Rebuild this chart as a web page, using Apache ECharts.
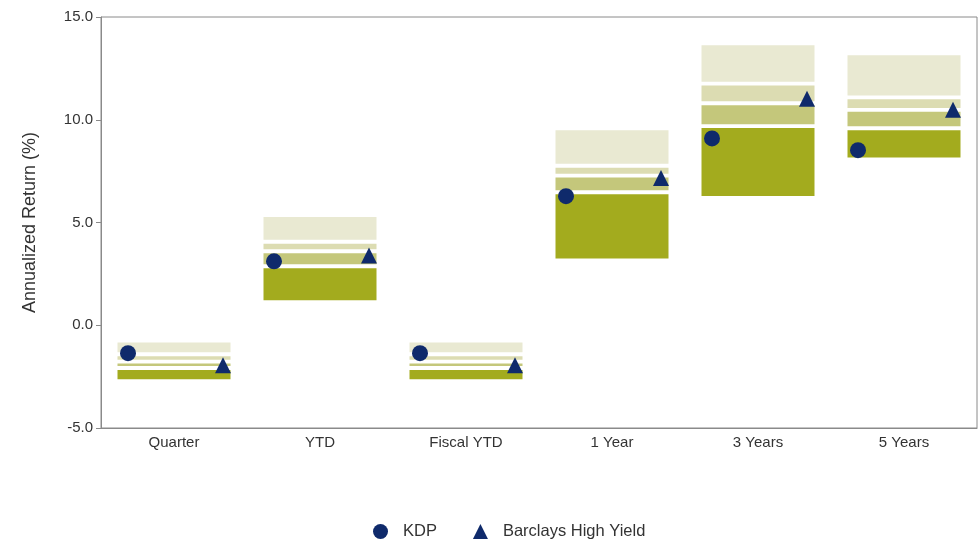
<!DOCTYPE html>
<html>
<head>
<meta charset="utf-8">
<script src="https://cdn.jsdelivr.net/npm/echarts@6/dist/echarts.min.js"></script>
<style>html,body{margin:0;padding:0;background:#fff}#chart{width:978px;height:543px}</style>
</head>
<body>
<div id="chart"></div>
<script>
var categories = ['Quarter', 'YTD', 'Fiscal YTD', '1 Year', '3 Years', '5 Years'];
var bandBottom = [-2.63, 1.22, -2.63, 3.25, 6.29, 8.16];
var band25 = [-2.08, 2.87, -2.08, 6.47, 9.69, 9.59];
var bandMedian = [-1.77, 3.60, -1.77, 7.28, 10.80, 10.48];
var band75 = [-1.41, 4.06, -1.41, 7.76, 11.76, 11.09];
var bandTop = [-0.84, 5.27, -0.84, 9.49, 13.63, 13.14];
var kdp = [-1.36, 3.11, -1.36, 6.28, 9.09, 8.52];
var barclays = [-1.95, 3.40, -1.95, 7.17, 11.02, 10.49];
var yTicks = [-5, 0, 5, 10, 15];

var GAP = 0.19; // white separator thickness in axis units (~4px)
function seg(hi, lo, cutHi, cutLo) {
  return hi.map(function (v, i) { return +(v - lo[i] - cutHi - cutLo).toFixed(3); });
}
function fill(v) { return categories.map(function () { return v; }); }

var font = 'Liberation Sans, Arial, sans-serif';
var bandColors = ['#a3ab1e', '#c4c77b', '#dcdcb2', '#e9e9d2'];
var pieces = [
  { name: 'base', data: bandBottom, color: 'transparent' },
  { name: '5th-25th', data: seg(band25, bandBottom, GAP / 2, 0), color: bandColors[0] },
  { name: 'g1', data: fill(GAP), color: 'transparent' },
  { name: '25th-Median', data: seg(bandMedian, band25, GAP / 2, GAP / 2), color: bandColors[1] },
  { name: 'g2', data: fill(GAP), color: 'transparent' },
  { name: 'Median-75th', data: seg(band75, bandMedian, GAP / 2, GAP / 2), color: bandColors[2] },
  { name: 'g3', data: fill(GAP), color: 'transparent' },
  { name: '75th-95th', data: seg(bandTop, band75, 0, GAP / 2), color: bandColors[3] }
];
var series = pieces.map(function (p) {
  return {
    name: p.name, type: 'bar', stack: 'b', stackStrategy: 'all', barWidth: 113,
    itemStyle: { color: p.color }, silent: true, data: p.data
  };
});
series.push({
  name: 'KDP', type: 'scatter', symbol: 'circle', symbolSize: 16, symbolOffset: [-46, 0],
  itemStyle: { color: '#0f2a6b', opacity: 1 }, z: 5, data: kdp
});
series.push({
  name: 'Barclays High Yield', type: 'scatter', symbol: 'triangle', symbolSize: 16, symbolOffset: [49, 0],
  itemStyle: { color: '#0f2a6b', opacity: 1 }, z: 5, data: barclays
});

var chart = echarts.init(document.getElementById('chart'));
chart.setOption({
  animation: false,
  backgroundColor: '#ffffff',
  grid: { left: 101, right: 1, top: 17, bottom: 115, show: true, borderColor: '#8a8a8a', borderWidth: 1, backgroundColor: 'transparent' },
  legend: {
    data: [{ name: 'KDP', icon: 'circle' }, { name: 'Barclays High Yield', icon: 'triangle' }],
    top: 518, left: 368, itemWidth: 15, itemHeight: 15, itemGap: 36,
    textStyle: { fontFamily: font, fontSize: 16.5, color: '#333', padding: [0, 0, 0, 10] }
  },
  xAxis: {
    type: 'category', data: categories,
    axisLine: { onZero: false, lineStyle: { color: '#8a8a8a' } },
    axisTick: { show: false },
    axisLabel: { fontFamily: font, fontSize: 15, color: '#333', margin: 7 }
  },
  yAxis: {
    type: 'value', min: yTicks[0], max: yTicks[yTicks.length - 1], interval: 5,
    name: 'Annualized Return (%)', nameLocation: 'middle', nameGap: 62,
    nameTextStyle: { fontFamily: font, fontSize: 18, color: '#333' },
    axisLine: { show: true, lineStyle: { color: '#8a8a8a' } },
    axisTick: { show: true, length: 5, lineStyle: { color: '#8a8a8a' } },
    splitLine: { show: false },
    axisLabel: { fontFamily: font, fontSize: 15, color: '#333', margin: 8, formatter: function (v) { return v.toFixed(1); } }
  },
  series: series
});
</script>
</body>
</html>
